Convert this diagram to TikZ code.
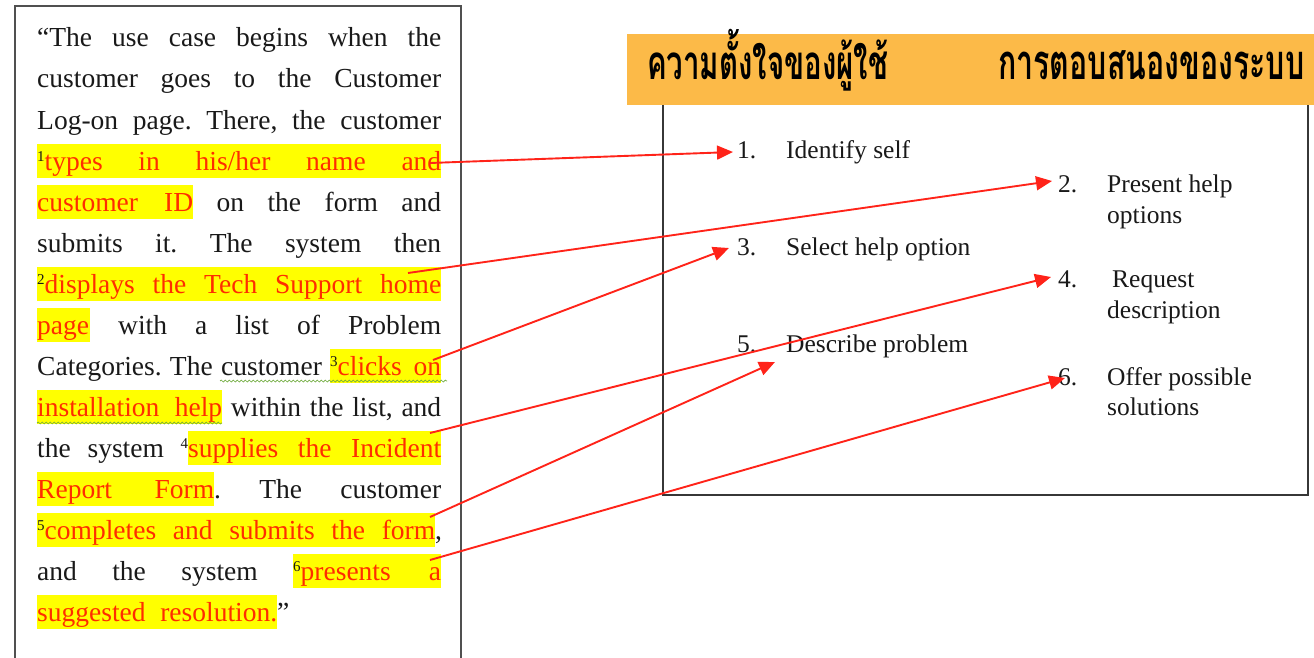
\documentclass[tikz,border=0pt]{standalone}
\usepackage{fontspec}
\setmainfont{Liberation Serif}
\newfontfamily\thaifont[Script=Thai,FakeStretch=0.62]{Loma}
\usetikzlibrary{arrows.meta,decorations.pathmorphing}
\definecolor{hlyellow}{RGB}{255,255,0}
\definecolor{hlred}{RGB}{255,45,0}
\definecolor{arrowred}{RGB}{255,35,25}
\definecolor{bannerorange}{RGB}{252,186,72}
\definecolor{ink}{RGB}{25,25,25}
\definecolor{squig}{RGB}{110,170,60}
\definecolor{framegray}{RGB}{80,80,80}
\definecolor{boxgray}{RGB}{55,55,55}
\frenchspacing
\newcommand\jline[2]{\makebox[#1][s]{#2}}
\newcommand\supnum[1]{\raisebox{9pt}{\fontsize{15}{15}\selectfont\color{ink}#1}}
\tikzset{
  txt/.style={anchor=base west, inner sep=0pt, font=\fontsize{27.5}{41}\selectfont, text=ink},
  hl/.style={txt, fill=hlyellow, text=hlred, text height=26pt, text depth=8pt},
  item/.style={anchor=base west, inner sep=0pt, font=\fontsize{25.5}{30}\selectfont, text=ink},
  thai/.style={anchor=base west, inner sep=0pt, text=black},
  conn/.style={draw=arrowred, line width=1.9pt, -{Triangle[length=16pt,width=14pt]}},
  squiggle/.style={draw=squig, line width=0.7pt, decorate, decoration={snake, amplitude=1pt, segment length=4pt}}
}
\begin{document}
\begin{tikzpicture}[x=1pt,y=-1pt]
\useasboundingbox (0,0) rectangle (1314,658);
% left frame
\draw[framegray, line width=1.6pt] (15,658) -- (15,6) -- (461,6) -- (461,658);
% left text
\node[txt] (l1) at (37,47) {\jline{404pt}{“The use case begins when the}};
\node[txt] (l2) at (37,88) {\jline{404pt}{customer goes to the Customer}};
\node[txt] (l3) at (37,129) {\jline{404pt}{Log-on page. There, the customer}};
\node[hl] (l4) at (37,170) {\jline{404pt}{\supnum{1}types in his/her name and}};
\node[hl] (l5a) at (37,211) {\jline{156pt}{customer ID}};
\node[txt] (l5b) at (193,211) {\jline{248pt}{\ on the form and}};
\node[txt] (l6) at (37,252) {\jline{404pt}{submits it. The system then}};
\node[hl] (l7) at (37,293) {\jline{404pt}{\supnum{2}displays the Tech Support home}};
\node[hl] (l8a) at (37,334) {\jline{53pt}{page}};
\node[txt] (l8b) at (90,334) {\jline{351pt}{\ with a list of Problem}};
\node[txt] (l9a) at (37,375) {\jline{293pt}{Categories. The customer\ }};
\node[hl] (l9b) at (330,375) {\jline{111pt}{\supnum{3}clicks on}};
\node[hl] (l10a) at (37,416) {\jline{185pt}{installation help}};
\node[txt] (l10b) at (222,416) {\jline{219pt}{\ within the list, and}};
\node[txt] (l11a) at (37,457) {\jline{151pt}{the system\ \supnum{4}}};
\node[hl] (l11b) at (188,457) {\jline{253pt}{supplies the Incident}};
\node[hl] (l12a) at (37,498) {\jline{177pt}{Report Form}};
\node[txt] (l12b) at (214,498) {\jline{227pt}{.\ The customer}};
\node[hl] (l13a) at (37,539) {\jline{398pt}{\supnum{5}completes and submits the form}};
\node[txt] (l13b) at (435,539) {,};
\node[txt] (l14a) at (37,580) {\jline{256pt}{and the system\ }};
\node[hl] (l14b) at (293,580) {\jline{148pt}{\supnum{6}presents a}};
\node[hl] (l15a) at (37,621) {\jline{240pt}{suggested resolution.}};
\node[txt] (l15b) at (277,621) {”};
% grammar squiggles
\draw[squiggle] (220,381) -- (447,381);
\draw[squiggle] (37,423) -- (222,423);
% right frame
\draw[boxgray, line width=1.7pt] (663,95) rectangle (1308,495);
% banner
\node[fill=bannerorange, minimum width=687pt, minimum height=71pt, anchor=north west, inner sep=0pt] (head) at (627,34) {};
\node[thai] (h1) at (647,80) {\resizebox{241pt}{!}{\thaifont\bfseries ความตั้งใจของผู้ใช้}};
\node[thai] (h2) at (998,80) {\resizebox{306pt}{!}{\thaifont\bfseries การตอบสนองของระบบ}};
% items
\node[item] (n1) at (737,158) {1.};
\node[item] (i1) at (786,158) {Identify self};
\node[item] (n2) at (1058,192) {2.};
\node[item] (i2) at (1107,192) {Present help};
\node[item] (i2b) at (1107,223) {options};
\node[item] (n3) at (737,255) {3.};
\node[item] (i3) at (786,255) {Select help option};
\node[item] (n4) at (1058,287) {4.};
\node[item] (i4) at (1112,287) {Request};
\node[item] (i4b) at (1107,318) {description};
\node[item] (n5) at (737,352) {5.};
\node[item] (i5) at (786,352) {Describe problem};
\node[item] (n6) at (1058,385) {6.};
\node[item] (i6) at (1107,385) {Offer possible};
\node[item] (i6b) at (1107,415) {solutions};
% connector ends
\coordinate (s1) at (430,163); \coordinate (t1) at (733,152);
\coordinate (s2) at (408,273); \coordinate (t2) at (1052,181);
\coordinate (s3) at (433,360); \coordinate (t3) at (729,248);
\coordinate (s4) at (430,433); \coordinate (t4) at (1051,277);
\coordinate (s5) at (430,517); \coordinate (t5) at (775,362);
\coordinate (s6) at (430,560); \coordinate (t6) at (1065,378);
\draw[conn] (s1) -- (t1);
\draw[conn] (s2) -- (t2);
\draw[conn] (s3) -- (t3);
\draw[conn] (s4) -- (t4);
\draw[conn] (s5) -- (t5);
\draw[conn] (s6) -- (t6);
\end{tikzpicture}
\end{document}
